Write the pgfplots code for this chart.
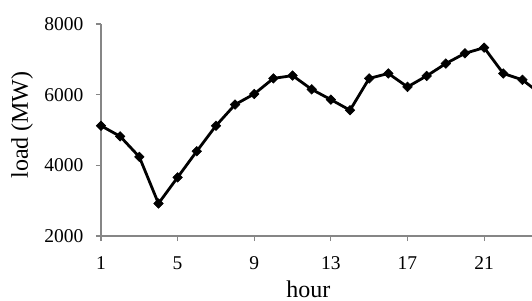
\documentclass[border=0pt]{standalone}
\usepackage{pgfplots}
\pgfplotsset{compat=1.18}
\usepackage{fontspec}
\setmainfont{Liberation Serif}
\definecolor{axisgray}{RGB}{134,134,134}
\begin{document}
\begin{tikzpicture}[x=1pt,y=1pt]
\path[use as bounding box] (0,0) rectangle (532,300);
\begin{axis}[
  at={(101pt,64pt)}, anchor=south west,
  scale only axis, width=431pt, height=212pt,
  xmin=1, xmax=23.5, ymin=2000, ymax=8000,
  xtick={1,5,9,13,17,21}, ytick={2000,4000,6000,8000},
  axis x line*=bottom, axis y line*=left,
  axis line style={axisgray, line width=1.2pt, -},
  tick style={axisgray, line width=1.2pt},
  tick align=outside, major tick length=5pt,
  /pgf/number format/assume math mode=true,
  /pgf/number format/1000 sep={},
  ticklabel style={font=\fontsize{19.5}{19.5}\selectfont},
  yticklabel style={xshift=-9pt},
  xticklabel style={yshift=-12pt},
  xlabel={hour}, ylabel={load (MW)},
  label style={font=\fontsize{24}{24}\selectfont},
  xlabel style={at={(axis description cs:0.481,-0.288)}, anchor=base},
  ylabel style={at={(axis description cs:-0.183,0.5236)}, anchor=center},
  clip=true,
]
\addplot[black, line width=2.8pt, mark=square*, mark size=3.4pt,
  mark options={rotate=45, line width=0.5pt}] coordinates {
(1,5120) (2,4820) (3,4240) (4,2920) (5,3660) (6,4400) (7,5120) (8,5720)
(9,6020) (10,6460) (11,6540) (12,6150) (13,5860) (14,5560) (15,6460) (16,6600)
(17,6220) (18,6530) (19,6880) (20,7170) (21,7330) (22,6600) (23,6420) (24,6000)
};
\end{axis}
\end{tikzpicture}
\end{document}
